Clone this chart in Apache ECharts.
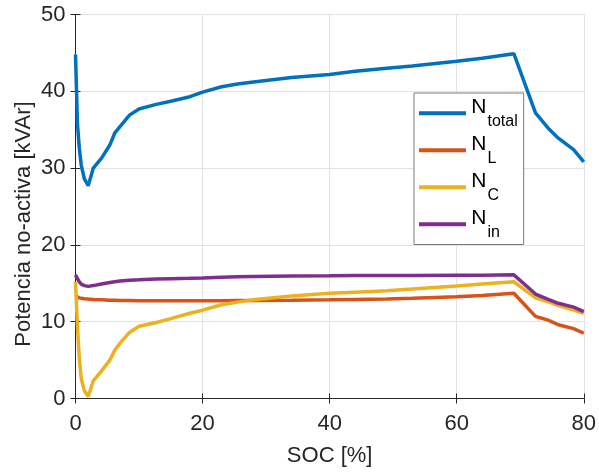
<!DOCTYPE html>
<html>
<head>
<meta charset="utf-8">
<script src="https://cdn.jsdelivr.net/npm/echarts@6/dist/echarts.min.js"></script>
<style>html,body{margin:0;padding:0;background:#fff;}#c{width:599px;height:472px;}</style>
</head>
<body>
<div id="c"></div>
<script>
const soc = [0, 0.3, 0.6, 0.9, 1.4, 2.0, 2.8, 4.1, 5.4, 6.2, 7.0, 8.5, 10, 12.7, 15, 18, 20, 23, 25.5, 28, 34, 40, 44, 49, 53, 60, 64, 69, 72.4, 74.4, 76, 78.4, 80];
const nTotal = [44.8, 35.9, 32.6, 30.4, 28.6, 27.7, 30.0, 31.3, 33.0, 34.6, 35.4, 36.9, 37.7, 38.3, 38.7, 39.3, 39.9, 40.6, 40.95, 41.2, 41.8, 42.2, 42.6, 43.0, 43.3, 43.9, 44.3, 44.9, 37.2, 35.2, 33.9, 32.4, 30.8];
const nL = [13.4, 13.2, 13.1, 13.05, 13.0, 12.95, 12.9, 12.85, 12.8, 12.78, 12.76, 12.75, 12.74, 12.74, 12.74, 12.74, 12.74, 12.74, 12.75, 12.76, 12.8, 12.85, 12.9, 12.97, 13.05, 13.25, 13.4, 13.7, 10.7, 10.2, 9.6, 9.1, 8.5];
const nC = [15.2, 9.5, 5.2, 2.6, 1.0, 0.25, 2.3, 3.6, 5.0, 6.3, 7.2, 8.6, 9.4, 9.9, 10.4, 11.1, 11.5, 12.2, 12.55, 12.85, 13.35, 13.7, 13.85, 14.04, 14.25, 14.65, 14.9, 15.2, 13.1, 12.6, 12.1, 11.5, 11.1];
const nIn = [16.1, 15.6, 15.2, 14.9, 14.7, 14.6, 14.7, 14.9, 15.1, 15.2, 15.3, 15.4, 15.45, 15.55, 15.6, 15.65, 15.7, 15.8, 15.85, 15.9, 15.95, 15.97, 16.0, 16.0, 16.02, 16.05, 16.05, 16.1, 13.6, 12.9, 12.4, 11.9, 11.3];
const seriesNames = ['Ntotal', 'NL', 'NC', 'Nin'];
const subLabels = {Ntotal: 'total', NL: 'L', NC: 'C', Nin: 'in'};
const xTicks = {min: 0, max: 80, interval: 20};
const yTicks = {min: 0, max: 50, interval: 10};
const xTitle = 'SOC [%]';
const yTitle = 'Potencia no-activa [kVAr]';
const colors = ['#0072BD', '#D95319', '#EDB120', '#7E2F8E'];

const FONT = 'Liberation Sans, Arial, Helvetica, sans-serif';
const AX = '#262626';
function pairs(v){ return soc.map((x,i)=>[x, v[i]]); }
const allVals = [nTotal, nL, nC, nIn];

const chart = echarts.init(document.getElementById('c'), null, {renderer: 'canvas'});
chart.setOption({
  animation: false,
  backgroundColor: '#fff',
  grid: {left: 75.5, right: 13.5, top: 14.5, bottom: 73.5},
  graphic: [{
    type: 'text', x: 24, y: 224, rotation: Math.PI / 2,
    style: {text: yTitle, fontFamily: FONT, fontSize: 22, fill: AX, align: 'center', verticalAlign: 'middle'}
  }],
  xAxis: [{
    type: 'value', min: xTicks.min, max: xTicks.max, interval: xTicks.interval,
    name: xTitle, nameLocation: 'middle', nameGap: 46,
    nameTextStyle: {fontFamily: FONT, fontSize: 22, color: AX},
    axisLine: {show: true, lineStyle: {color: AX, width: 1}},
    axisTick: {show: true, inside: true, length: 5, lineStyle: {color: AX}},
    axisLabel: {fontFamily: FONT, fontSize: 22, color: AX, margin: 14},
    splitLine: {show: true, lineStyle: {color: '#e2e2e2', width: 1}}
  }, {
    type: 'value', position: 'top', min: xTicks.min, max: xTicks.max, interval: xTicks.interval,
    axisLine: {show: true, lineStyle: {color: AX, width: 1}},
    axisTick: {show: true, inside: true, length: 5, lineStyle: {color: AX}},
    axisLabel: {show: false}, splitLine: {show: false}
  }],
  yAxis: [{
    type: 'value', min: yTicks.min, max: yTicks.max, interval: yTicks.interval,
    axisLine: {show: true, lineStyle: {color: AX, width: 1}},
    axisTick: {show: true, inside: true, length: 5, lineStyle: {color: AX}},
    axisLabel: {fontFamily: FONT, fontSize: 22, color: AX, margin: 10},
    splitLine: {show: true, lineStyle: {color: '#e2e2e2', width: 1}}
  }, {
    type: 'value', position: 'right', min: yTicks.min, max: yTicks.max, interval: yTicks.interval,
    axisLine: {show: true, lineStyle: {color: AX, width: 1}},
    axisTick: {show: true, inside: true, length: 5, lineStyle: {color: AX}},
    axisLabel: {show: false}, splitLine: {show: false}
  }],
  legend: {
    orient: 'vertical', left: 414, top: 93,
    padding: [4, 6, 4, 5], itemGap: 4.5,
    itemWidth: 47, itemHeight: 4, icon: 'rect',
    backgroundColor: '#fff', borderColor: '#7a7a7a', borderWidth: 1, borderRadius: 0,
    data: seriesNames,
    formatter: function(name){ return '{h| }{n|N}{s|' + subLabels[name] + '}'; },
    textStyle: {
      fontFamily: FONT, color: '#000',
      rich: {
        h: {fontFamily: FONT, fontSize: 1, lineHeight: 32.5, verticalAlign: 'top'},
        n: {fontFamily: FONT, fontSize: 21, color: '#000', verticalAlign: 'top', lineHeight: 27},
        s: {fontFamily: FONT, fontSize: 16, color: '#000', verticalAlign: 'bottom', lineHeight: 16, padding: [0, 0, 0, 1]}
      }
    }
  },
  series: seriesNames.map((nm, i) => ({
    name: nm, type: 'line', data: pairs(allVals[i]),
    showSymbol: false, symbol: 'none', smooth: false,
    lineStyle: {color: colors[i], width: 3.5},
    itemStyle: {color: colors[i]},
    z: 2 + i
  }))
});
</script>
</body>
</html>
